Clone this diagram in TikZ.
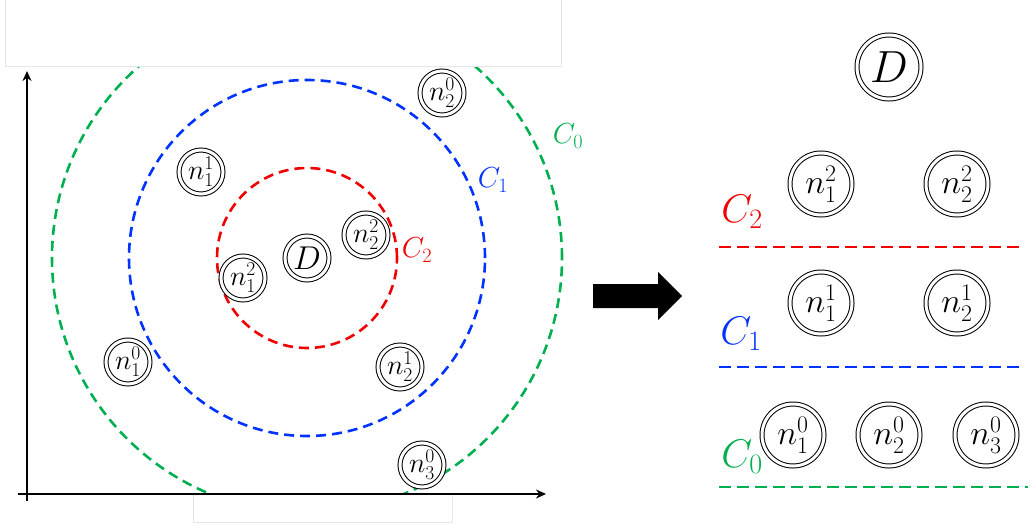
\documentclass[tikz,border=0pt]{standalone}
\usepackage{fix-cm}
\usepackage{amsmath}
\usepackage{tikz}
\usetikzlibrary{arrows.meta}

\definecolor{ringgreen}{RGB}{0,176,80}
\definecolor{ringblue}{RGB}{0,51,255}
\definecolor{ringred}{RGB}{240,0,0}

\begin{document}
\begin{tikzpicture}[x=1pt, y=-1pt,
		dnode/.style={circle, draw, double, line width=1pt, double distance=3pt, fill=white, minimum size=44pt, inner sep=0pt, font=\fontsize{28}{32}\selectfont},
		bignode/.style={dnode, minimum size=62pt, font=\fontsize{34}{38}\selectfont},
		ring/.style={line width=2.6pt, dash pattern=on 10pt off 6pt},
		level/.style={line width=2.6pt, dash pattern=on 12pt off 6pt},
		clabel/.style={inner sep=0pt, font=\fontsize{29}{33}\selectfont},
		bigclabel/.style={inner sep=0pt, font=\fontsize{40}{44}\selectfont},
		cover/.style={draw=gray!20, fill=white, line width=1pt}]
		\useasboundingbox (0,0) rectangle (1036,530);
		% rings round D
		\draw[ring, ringred] (307,258) circle[radius=90pt];
		\draw[ring, ringblue] (307,258) circle[radius=178pt];
		\draw[ring, ringgreen] (307,258) circle[radius=255pt];
		\draw[cover] (5,-2) rectangle (561,66);
		\draw[cover] (193,494) rectangle (452,522);
		% axes
		\coordinate (ybot) at (27,501);
		\coordinate (ytop) at (27,71);
		\coordinate (xleft) at (18,494);
		\coordinate (xright) at (546,494);
		\draw[line width=2.5pt, -{Stealth[length=10pt, width=9pt]}] (ybot) -- (ytop);
		\draw[line width=2.5pt, -{Stealth[length=10pt, width=9pt]}] (xleft) -- (xright);
		% left nodes
		\node[dnode] (l20) at (442,93) {$n_2^0$};
		\node[dnode] (l11) at (201,172) {$n_1^1$};
		\node[dnode] (l22) at (366,235) {$n_2^2$};
		\node[dnode, font=\fontsize{33}{36}\selectfont] (lD) at (307,258) {$D$};
		\node[dnode] (l12) at (243,278) {$n_1^2$};
		\node[dnode] (l10) at (128,362) {$n_1^0$};
		\node[dnode] (l21) at (400,367) {$n_2^1$};
		\node[dnode] (l30) at (422,465) {$n_3^0$};
		\node[clabel, ringgreen] (lc0) at (568,136) {$C_0$};
		\node[clabel, ringblue] (lc1) at (493,180) {$C_1$};
		\node[clabel, ringred] (lc2) at (417,250) {$C_2$};
		% big arrow
		\fill (593,284) -- (658,284) -- (658,272) -- (682,296) -- (658,320) -- (658,308) -- (593,308) -- cycle;
		% right side
		\node[bignode, minimum size=64pt, font=\fontsize{45}{48}\selectfont] (rD) at (889,67) {$D$};
		\node[bignode] (r12) at (821,184) {$n_1^2$};
		\node[bignode] (r22) at (957,184) {$n_2^2$};
		\node[bignode] (r11) at (821,303) {$n_1^1$};
		\node[bignode] (r21) at (957,303) {$n_2^1$};
		\node[bignode] (r10) at (793,435) {$n_1^0$};
		\node[bignode] (r20) at (889,435) {$n_2^0$};
		\node[bignode] (r30) at (986,435) {$n_3^0$};
		\node[bigclabel, ringred] (rc2) at (742,212) {$C_2$};
		\node[bigclabel, ringblue] (rc1) at (741,334) {$C_1$};
		\node[bigclabel, ringgreen] (rc0) at (742,457) {$C_0$};
		\draw[level, ringred] (719,247) -- (1024,247);
		\draw[level, ringblue] (719,367) -- (1024,367);
		\draw[level, ringgreen] (719,487) -- (1028,487);
	\end{tikzpicture}
\end{document}
